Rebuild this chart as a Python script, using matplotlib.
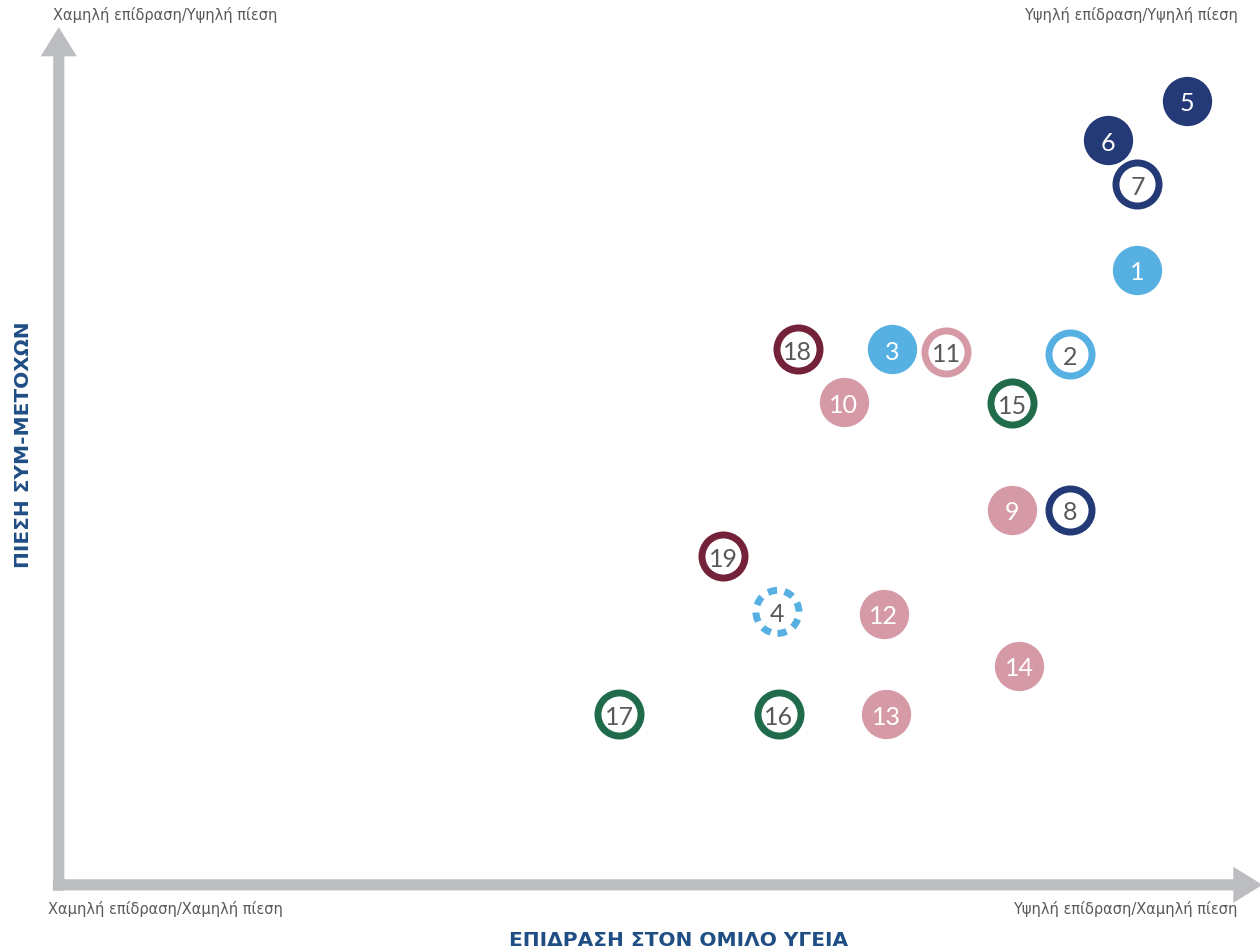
import matplotlib
matplotlib.use("Agg")
import matplotlib.pyplot as plt
from matplotlib.patches import FancyArrowPatch, ArrowStyle

# issue number, impact (x), stakeholder pressure (y), colour group, marker style
ids = ["1", "2", "3", "4", "5", "6", "7", "8", "9", "10",
       "11", "12", "13", "14", "15", "16", "17", "18", "19"]
impact = [9.13, 8.56, 7.05, 6.08, 9.55, 8.88, 9.13, 8.56, 8.07, 6.64,
          7.51, 6.98, 7.00, 8.13, 8.07, 6.09, 4.74, 6.25, 5.62]
pressure = [7.27, 6.27, 6.33, 3.22, 9.27, 8.80, 8.28, 4.43, 4.43, 5.70,
            6.30, 3.20, 2.01, 2.58, 5.69, 2.01, 2.01, 6.33, 3.88]
group = ["blue", "blue", "blue", "blue", "navy", "navy", "navy", "navy", "pink", "pink",
         "pink", "pink", "pink", "pink", "green", "green", "green", "wine", "wine"]
style = ["fill", "ring", "fill", "dash", "fill", "fill", "ring", "ring", "fill", "fill",
         "ring", "fill", "fill", "fill", "ring", "ring", "ring", "ring", "ring"]

colors = {"blue": "#56b0e2", "navy": "#233a76", "pink": "#d69aa6",
          "green": "#1f6b4b", "wine": "#74223a"}

corner_tl = "Χαμηλή επίδραση/Υψηλή πίεση"
corner_tr = "Υψηλή επίδραση/Υψηλή πίεση"
corner_bl = "Χαμηλή επίδραση/Χαμηλή πίεση"
corner_br = "Υψηλή επίδραση/Χαμηλή πίεση"
xlabel = "ΕΠΙΔΡΑΣΗ ΣΤΟΝ ΟΜΙΛΟ ΥΓΕΙΑ"
ylabel = "ΠΙΕΣΗ ΣΥΜ-ΜΕΤΟΧΩΝ"

fig = plt.figure(figsize=(12.6, 9.53), dpi=100)
ax = fig.add_axes([0, 0, 1, 1])
ax.set_xlim(-0.508, 10.169)
ax.set_ylim(-0.805, 10.473)
ax.axis("off")

# axis arrows
grey = "#bcbdc0"
arr = ArrowStyle.Simple(head_length=21, head_width=26, tail_width=8)
ax.add_patch(FancyArrowPatch((-0.01, -0.08), (-0.01, 10.14), arrowstyle=arr,
                             mutation_scale=1, color=grey, lw=0,
                             shrinkA=0, shrinkB=0))
ax.add_patch(FancyArrowPatch((-0.06, -0.01), (10.19, -0.01), arrowstyle=arr,
                             mutation_scale=1, color=grey, lw=0,
                             shrinkA=0, shrinkB=0, clip_on=False))

txt = "#58595b"
for xi, yi, lab, st, g in zip(impact, pressure, ids, style, group):
    c = colors[g]
    if st == "fill":
        ax.scatter(xi, yi, s=35.5**2, color=c, lw=0, zorder=3)
        tc = "white"
    elif st == "ring":
        ax.scatter(xi, yi, s=31**2, facecolor="white", edgecolor=c,
                   lw=5, zorder=3)
        tc = txt
    else:
        ax.scatter(xi, yi, s=31**2, facecolor="white", edgecolor=c,
                   lw=5, linestyle=(0, (1.35, 1.1)), zorder=3)
        tc = txt
    ax.text(xi, yi, lab, ha="center", va="center_baseline", fontsize=18,
            family="Lato", color=tc, zorder=4)

fs = 10.5
ax.text(53 / 1260, 1 - 15 / 953, corner_tl, transform=ax.transAxes,
        ha="left", va="center", fontsize=fs, color=txt)
ax.text(1238 / 1260, 1 - 15 / 953, corner_tr, transform=ax.transAxes,
        ha="right", va="center", fontsize=fs, color=txt)
ax.text(48 / 1260, 1 - 909 / 953, corner_bl, transform=ax.transAxes,
        ha="left", va="center", fontsize=fs, color=txt)
ax.text(1237 / 1260, 1 - 909 / 953, corner_br, transform=ax.transAxes,
        ha="right", va="center", fontsize=fs, color=txt)

title_c = "#1f4e85"
ax.text(679 / 1260, 1 - 941 / 953, xlabel, transform=ax.transAxes,
        ha="center", va="center", fontsize=14.5, fontweight="bold", color=title_c)
ax.text(24 / 1260, 1 - 445 / 953, ylabel, transform=ax.transAxes, rotation=90,
        ha="center", va="center", fontsize=14.5, fontweight="bold", color=title_c)

fig.savefig("out.png", dpi=100)
